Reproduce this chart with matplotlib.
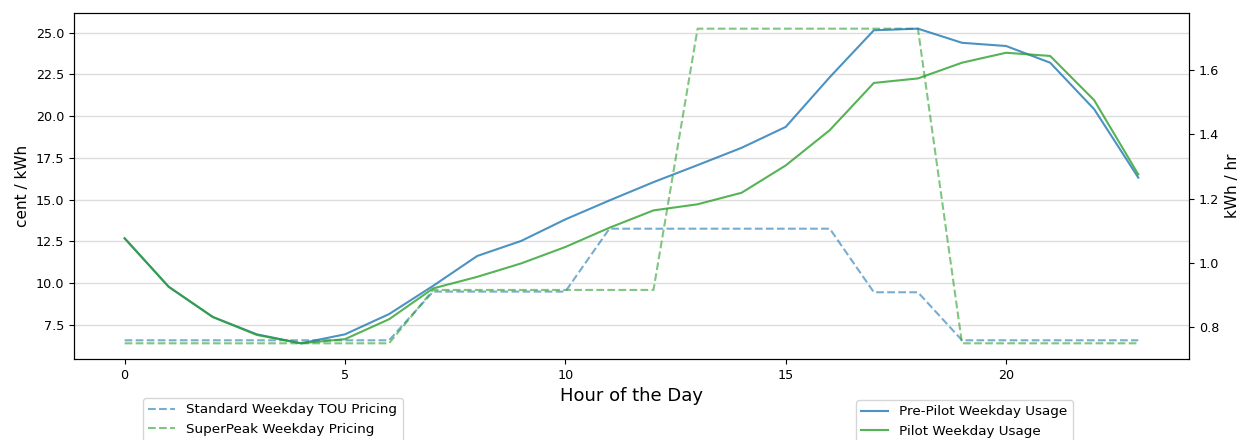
import numpy as np
import matplotlib.pyplot as plt

# hourly data
hours = list(range(24))

standard_price = [6.56, 6.56, 6.56, 6.56, 6.56, 6.56, 6.56,
                  9.48, 9.48, 9.48, 9.48,
                  13.25, 13.25, 13.25, 13.25, 13.25, 13.25,
                  9.44, 9.44,
                  6.56, 6.56, 6.56, 6.56, 6.56]
superpeak_price = [6.38, 6.38, 6.38, 6.38, 6.38, 6.38, 6.38,
                   9.58, 9.58, 9.58, 9.58, 9.58, 9.58,
                   25.24, 25.24, 25.24, 25.24, 25.24, 25.24,
                   6.38, 6.38, 6.38, 6.38, 6.38]

pre_pilot_usage = [1.076, 0.925, 0.831, 0.777, 0.749, 0.777, 0.840, 0.928,
                   1.021, 1.068, 1.135, 1.194, 1.251, 1.304, 1.358, 1.423,
                   1.578, 1.724, 1.729, 1.685, 1.675, 1.623, 1.478, 1.265]
pilot_usage = [1.076, 0.925, 0.831, 0.775, 0.749, 0.762, 0.824, 0.920,
               0.956, 0.998, 1.049, 1.109, 1.163, 1.182, 1.218, 1.303,
               1.413, 1.560, 1.574, 1.623, 1.654, 1.644, 1.506, 1.275]

fig = plt.figure(figsize=(12.45, 4.4), dpi=100)
ax = fig.add_axes([0.0594, 0.184, 0.8956, 0.7866])

ax.plot(hours, standard_price, '--', color='tab:blue', alpha=0.6, lw=1.5,
        label='Standard Weekday TOU Pricing')
ax.plot(hours, superpeak_price, '--', color='tab:green', alpha=0.6, lw=1.5,
        label='SuperPeak Weekday Pricing')
ax.set_ylabel('cent / kWh', fontsize=11)
ax.set_xlabel('Hour of the Day', fontsize=13)
ax.tick_params(labelsize=9.2)
ax.yaxis.grid(True, color='#dddddd', lw=1)
ax.set_axisbelow(True)

ax2 = ax.twinx()
ax2.plot(hours, pre_pilot_usage, color='tab:blue', alpha=0.8, lw=1.5,
         label='Pre-Pilot Weekday Usage')
ax2.plot(hours, pilot_usage, color='tab:green', alpha=0.8, lw=1.5,
         label='Pilot Weekday Usage')
ax2.set_ylabel('kWh / hr', fontsize=11)
ax2.tick_params(labelsize=9.2)

h1, l1 = ax.get_legend_handles_labels()
h2, l2 = ax2.get_legend_handles_labels()
fig.legend(h1, l1, loc='upper left', bbox_to_anchor=(143 / 1245, 1 - 398 / 440),
           borderaxespad=0, fontsize=9.7)
fig.legend(h2, l2, loc='upper left', bbox_to_anchor=(856 / 1245, 1 - 400 / 440),
           borderaxespad=0, fontsize=9.7)

fig.savefig('out.png', dpi=100)
